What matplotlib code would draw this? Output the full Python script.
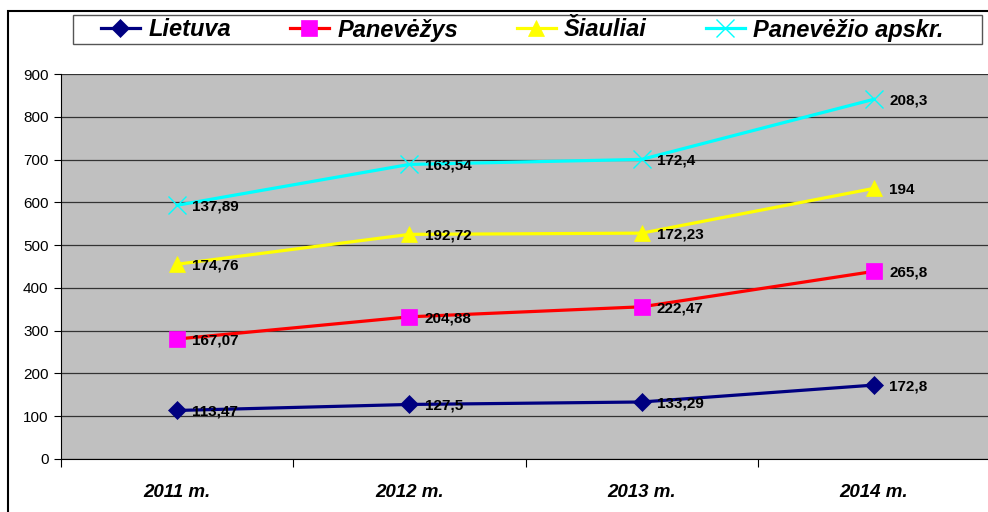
import matplotlib
matplotlib.use('Agg')
import matplotlib.pyplot as plt
import matplotlib.patches as mpatches
import numpy as np

plt.rcParams['font.family'] = ['Liberation Sans', 'DejaVu Sans']

# ---- Data (stacked line chart, labels show own values) ----
years = ['2011 m.', '2012 m.', '2013 m.', '2014 m.']
series_names = ['Lietuva', 'Panevėžys', 'Šiauliai', 'Panevėžio apskr.']
lietuva = [113.47, 127.5, 133.29, 172.8]
panevezys = [167.07, 204.88, 222.47, 265.8]
siauliai = [174.76, 192.72, 172.23, 194]
apskr = [137.89, 163.54, 172.4, 208.3]

# ---- Styles ----
line_colors = ['#000080', '#FF0000', '#FFFF00', '#00FFFF']
marker_colors = ['#000080', '#FF00FF', '#FFFF00', '#00FFFF']
markers = ['D', 's', '^', 'x']
msizes = [9, 11, 12, 13]

W, H = 988, 512
fig = plt.figure(figsize=(W / 100, H / 100), dpi=100)

# outer chart border
fig.patches.append(mpatches.Rectangle((8 / W, -0.1), 1.2, 1 - 10.5 / H + 0.1,
                                      transform=fig.transFigure, fill=False,
                                      edgecolor='black', linewidth=1.5))
# legend frame
fig.patches.append(mpatches.Rectangle((72.7 / W, 1 - 44 / H), (982 - 72.7) / W, 29.3 / H,
                                      transform=fig.transFigure, fill=False,
                                      edgecolor='#555555', linewidth=1.0))

ax = fig.add_axes([61 / W, 1 - 459 / H, (990 - 61) / W, (459 - 74) / H])
ax.set_facecolor('#C0C0C0')

x = np.arange(len(years))
data = np.array([lietuva, panevezys, siauliai, apskr])
stacked = np.cumsum(data, axis=0)

handles = []
for i, name in enumerate(series_names):
    mew = 1.0 if markers[i] == 'x' else 0.5
    h, = ax.plot(x, stacked[i], color=line_colors[i], linewidth=2.3,
                 marker=markers[i], markersize=msizes[i],
                 markerfacecolor=marker_colors[i], markeredgecolor=marker_colors[i],
                 markeredgewidth=mew, label=name, zorder=3)
    handles.append(h)
    for xi, yi, v in zip(x, stacked[i], data[i]):
        ax.annotate(f'{v:g}'.replace('.', ','), (xi, yi), xytext=(11, -1),
                    textcoords='offset points', va='center', ha='left',
                    fontsize=11, fontweight='bold', color='black', zorder=4)

ax.set_xlim(-0.5, 3.5)
ax.set_ylim(0, 900)
ax.set_yticks(np.arange(0, 901, 100))
ax.grid(axis='y', color='#333333', linewidth=0.9)
ax.set_axisbelow(True)
ax.tick_params(axis='y', labelsize=11, length=5, width=0.8, pad=4)

ax.set_xticks(np.arange(-0.5, 3.6, 1.0))
ax.set_xticklabels([])
ax.tick_params(axis='x', which='major', length=6, width=0.8, direction='out')
ax.set_xticks(x, minor=True)
ax.set_xticklabels(years, minor=True, fontsize=13.5, fontweight='bold', style='italic')
ax.tick_params(axis='x', which='minor', length=0, pad=18)

for s in ['top', 'right']:
    ax.spines[s].set_visible(False)
ax.spines['left'].set_linewidth(0.8)
ax.spines['bottom'].set_linewidth(0.8)

leg = fig.legend(handles=handles, ncol=4, loc='center left',
                 bbox_to_anchor=(101 / W, 1 - 30 / H),
                 prop={'size': 17, 'weight': 'bold', 'style': 'italic'},
                 frameon=False, handlelength=1.65, handletextpad=0.35,
                 columnspacing=2.5, borderaxespad=0, borderpad=0)

fig.savefig('out.png', dpi=100)
